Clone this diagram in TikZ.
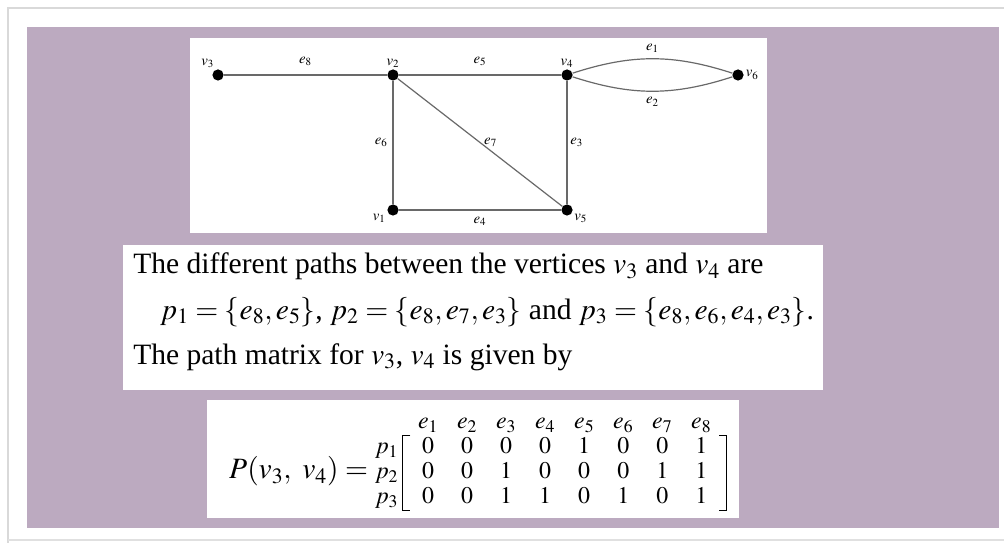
\documentclass[tikz,border=0pt]{standalone}
\usepackage{mathptmx}
\usepackage{fontspec}
\setmainfont{Liberation Serif}
\definecolor{mauve}{RGB}{188, 170, 192}
\definecolor{edgegray}{RGB}{105, 105, 105}
\usetikzlibrary{matrix, positioning}

\begin{document}
\begin{tikzpicture}[x = 0.025cm, y = -0.025cm,
    vertex/.style = {circle, fill = black, inner sep = 0pt, minimum size = 0.28cm},
    edge/.style = {draw = edgegray, line width = 0.03cm},
    lbl/.style = {font = \fontsize{10.5}{11}\selectfont, inner sep = 0.04cm},
    bodytext/.style = {font = \fontsize{21}{24}\selectfont, anchor = base west, inner sep = 0pt},
    cellnode/.style = {inner sep = 0pt, minimum width = 0.975cm, minimum height = 0.62cm,
                       text height = 0.4cm, text depth = 0.12cm, anchor = center},
    bracket/.style = {line width = 0.035cm}]
    \useasboundingbox (0,0) rectangle (1004,543);
    \fill[white] (0,0) rectangle (1004,543);
    \draw[black!15, line width = 0.05cm] (8,543) -- (8,8) -- (1004,8);
    \draw[black!12, line width = 0.05cm] (8,540) -- (1004,540);
    \fill[mauve] (27,27) rectangle (999,528);

    % graph
    \fill[white] (190,38) rectangle (767,233);
    \node[vertex, label = {[lbl]110:$v_3$}] (v3) at (218,75) {};
    \node[vertex, label = {[lbl]above:$v_2$}] (v2) at (393,75) {};
    \node[vertex, label = {[lbl]above:$v_4$}] (v4) at (567,75) {};
    \node[vertex, label = {[lbl]right:$v_6$}] (v6) at (738,75) {};
    \node[vertex, label = {[lbl]200:$v_1$}] (v1) at (393,210) {};
    \node[vertex, label = {[lbl]-20:$v_5$}] (v5) at (567,210) {};

    \draw[edge] (v3) -- node[lbl, above = 0.18cm] (e8) {$e_8$} (v2);
    \draw[edge] (v2) -- node[lbl, above = 0.18cm] (e5) {$e_5$} (v4);
    \draw[edge] (v4) to[bend left = 18] node[lbl, above = 0.1cm] (e1) {$e_1$} (v6);
    \draw[edge] (v4) to[bend right = 18] node[lbl, below = 0.1cm] (e2) {$e_2$} (v6);
    \draw[edge] (v2) -- node[lbl, left = 0.08cm] (e6) {$e_6$} (v1);
    \draw[edge] (v2) -- node[lbl, right = 0.05cm] (e7) {$e_7$} (v5);
    \draw[edge] (v4) -- node[lbl, right = 0.03cm] (e3) {$e_3$} (v5);
    \draw[edge] (v1) -- node[lbl, below = 0.12cm] (e4) {$e_4$} (v5);

    % paths
    \fill[white] (123,245) rectangle (823,390);
    \node[bodytext] (line1) at (133,274) {The different paths between the vertices $v_3$ and $v_4$ are};
    \node[bodytext] (line2) at (160,319) {$p_1 = \{e_8, e_5\}$, $p_2 = \{e_8, e_7, e_3\}$ and $p_3 = \{e_8, e_6, e_4, e_3\}$.};
    \node[bodytext] (line3) at (133,364) {The path matrix for $v_3$, $v_4$ is given by};

    % path matrix
    \fill[white] (207,400) rectangle (739,518);
    \matrix (pmat) [matrix of math nodes, anchor = north west, nodes = {cellnode},
                    column 1/.style = {nodes = {minimum width = 0.5cm}},
                    font = \fontsize{17}{19}\selectfont, column sep = 0pt, row sep = 0pt] at (370,406) {
            &[0.26cm] e_1 & e_2 & e_3 & e_4 & e_5 & e_6 & e_7 & e_8 \\
        p_1 &[0.26cm] 0   & 0   & 0   & 0   & 1   & 0   & 0   & 1   \\
        p_2 &[0.26cm] 0   & 0   & 1   & 0   & 0   & 0   & 1   & 1   \\
        p_3 &[0.26cm] 0   & 0   & 1   & 1   & 0   & 1   & 0   & 1   \\
    };
    \node[anchor = base east, inner sep = 0pt, font = \fontsize{21}{23}\selectfont] (pname)
        at ([xshift = -0.16cm]pmat-3-1.base west) {$P(v_3,\ v_4) =$};
    \draw[bracket] ([xshift = 0.05cm]pmat-2-2.north west) -- ([xshift = -0.15cm]pmat-2-2.north west)
        -- ([xshift = -0.15cm]pmat-4-2.south west) -- ([xshift = 0.05cm]pmat-4-2.south west);
    \draw[bracket] ([xshift = -0.05cm]pmat-2-9.north east) -- ([xshift = 0.14cm]pmat-2-9.north east)
        -- ([xshift = 0.14cm]pmat-4-9.south east) -- ([xshift = -0.05cm]pmat-4-9.south east);
\end{tikzpicture}
\end{document}
